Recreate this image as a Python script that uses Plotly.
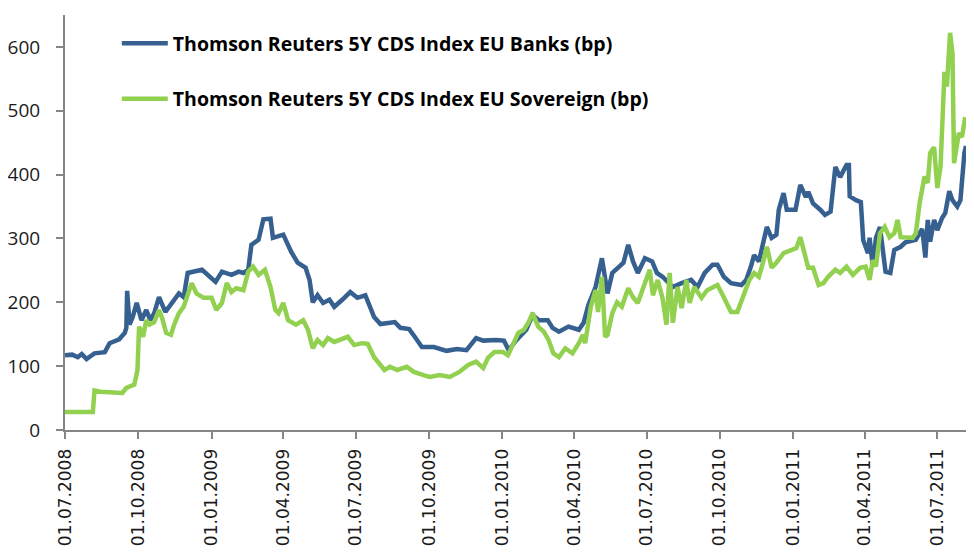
import plotly.graph_objects as go

# Thomson Reuters 5Y CDS Index EU Banks (bp)
banks_dates = [
    "2008-07-01", "2008-07-10", "2008-07-17", "2008-07-22", "2008-07-28", "2008-08-07", "2008-08-20",
    "2008-08-26", "2008-09-07", "2008-09-14", "2008-09-16", "2008-09-17", "2008-09-20", "2008-09-24",
    "2008-09-29", "2008-10-05", "2008-10-11", "2008-10-16", "2008-10-21", "2008-10-27", "2008-11-04",
    "2008-11-12", "2008-11-21", "2008-11-27", "2008-12-02", "2008-12-20", "2009-01-06", "2009-01-14",
    "2009-01-26", "2009-02-04", "2009-02-10", "2009-02-16", "2009-02-20", "2009-03-01", "2009-03-07",
    "2009-03-16", "2009-03-19", "2009-04-01", "2009-04-11", "2009-04-19", "2009-04-29", "2009-05-04",
    "2009-05-08", "2009-05-14", "2009-05-21", "2009-05-29", "2009-06-04", "2009-06-14", "2009-06-24",
    "2009-07-03", "2009-07-13", "2009-07-24", "2009-08-01", "2009-08-13", "2009-08-19", "2009-08-26",
    "2009-09-06", "2009-09-13", "2009-09-22", "2009-10-07", "2009-10-23", "2009-11-05", "2009-11-17",
    "2009-11-29", "2009-12-08", "2009-12-24", "2010-01-03", "2010-01-09", "2010-01-18", "2010-01-31",
    "2010-02-08", "2010-02-16", "2010-02-27", "2010-03-05", "2010-03-13", "2010-03-25", "2010-04-07",
    "2010-04-13", "2010-04-19", "2010-04-28", "2010-05-06", "2010-05-13", "2010-05-19", "2010-05-26",
    "2010-06-02", "2010-06-08", "2010-06-14", "2010-06-20", "2010-06-29", "2010-07-08", "2010-07-14",
    "2010-07-21", "2010-08-03", "2010-08-14", "2010-08-26", "2010-09-03", "2010-09-12", "2010-09-22",
    "2010-09-28", "2010-10-06", "2010-10-15", "2010-10-28", "2010-11-03", "2010-11-09", "2010-11-13",
    "2010-11-19", "2010-11-25", "2010-11-29", "2010-12-05", "2010-12-11", "2010-12-14", "2010-12-20",
    "2010-12-24", "2011-01-04", "2011-01-10", "2011-01-17", "2011-01-20", "2011-01-26", "2011-02-04",
    "2011-02-10", "2011-02-17", "2011-02-23", "2011-03-01", "2011-03-09", "2011-03-12", "2011-03-13",
    "2011-03-21", "2011-03-27", "2011-03-30", "2011-04-05", "2011-04-07", "2011-04-11", "2011-04-15",
    "2011-04-20", "2011-04-27", "2011-05-03", "2011-05-08", "2011-05-16", "2011-05-22", "2011-06-04",
    "2011-06-12", "2011-06-16", "2011-06-19", "2011-06-22", "2011-06-27", "2011-07-01", "2011-07-07",
    "2011-07-11", "2011-07-16", "2011-07-20", "2011-07-26", "2011-07-30", "2011-08-04", "2011-08-06",
]
banks_bp = [
    117, 118, 114, 119, 111, 120, 122,
    136, 142, 152, 160, 218, 165, 177,
    199, 172, 188, 172, 183, 208, 185,
    199, 214, 208, 246, 251, 232, 248,
    243, 248, 246, 251, 290, 298, 330,
    331, 301, 306, 279, 262, 254, 235,
    200, 211, 199, 204, 193, 204, 216,
    207, 211, 177, 166, 168, 169, 160,
    158, 146, 130, 130, 124, 127, 125,
    144, 140, 141, 140, 125, 140, 157,
    180, 172, 172, 160, 154, 162, 157,
    168, 196, 224, 269, 214, 246, 254,
    262, 290, 264, 246, 269, 264, 246,
    240, 224, 230, 235, 224, 246, 259,
    259, 240, 230, 227, 235, 256, 274,
    264, 298, 318, 301, 306, 345, 371,
    345, 345, 384, 365, 373, 355, 345,
    337, 342, 412, 396, 415, 415, 366,
    360, 357, 297, 277, 301, 256, 301,
    318, 248, 246, 282, 287, 294, 298,
    315, 270, 329, 295, 329, 313, 332,
    340, 374, 360, 350, 360, 434, 445,
]

# Thomson Reuters 5Y CDS Index EU Sovereign (bp)
sov_dates = [
    "2008-07-01", "2008-08-05", "2008-08-07", "2008-08-14", "2008-09-11", "2008-09-16", "2008-09-26",
    "2008-09-30", "2008-10-02", "2008-10-07", "2008-10-11", "2008-10-15", "2008-10-21", "2008-10-27",
    "2008-10-31", "2008-11-05", "2008-11-11", "2008-11-15", "2008-11-21", "2008-11-27", "2008-12-01",
    "2008-12-07", "2008-12-13", "2008-12-22", "2009-01-01", "2009-01-07", "2009-01-14", "2009-01-20",
    "2009-01-26", "2009-02-01", "2009-02-10", "2009-02-14", "2009-02-16", "2009-02-22", "2009-03-01",
    "2009-03-09", "2009-03-16", "2009-03-22", "2009-03-26", "2009-04-01", "2009-04-07", "2009-04-17",
    "2009-04-26", "2009-05-02", "2009-05-08", "2009-05-14", "2009-05-21", "2009-05-27", "2009-06-04",
    "2009-06-21", "2009-06-29", "2009-07-09", "2009-07-16", "2009-07-24", "2009-08-06", "2009-08-13",
    "2009-08-22", "2009-09-03", "2009-09-12", "2009-09-24", "2009-10-02", "2009-10-14", "2009-10-27",
    "2009-11-08", "2009-11-19", "2009-11-29", "2009-12-08", "2009-12-14", "2009-12-22", "2010-01-02",
    "2010-01-08", "2010-01-14", "2010-01-21", "2010-01-28", "2010-02-03", "2010-02-08", "2010-02-15",
    "2010-02-22", "2010-02-28", "2010-03-06", "2010-03-13", "2010-03-21", "2010-03-30", "2010-04-07",
    "2010-04-12", "2010-04-15", "2010-04-22", "2010-04-28", "2010-05-01", "2010-05-06", "2010-05-10",
    "2010-05-13", "2010-05-19", "2010-05-25", "2010-05-31", "2010-06-08", "2010-06-14", "2010-06-20",
    "2010-06-29", "2010-07-05", "2010-07-09", "2010-07-15", "2010-07-21", "2010-07-26", "2010-07-30",
    "2010-08-03", "2010-08-09", "2010-08-14", "2010-08-20", "2010-08-24", "2010-08-30", "2010-09-08",
    "2010-09-15", "2010-09-28", "2010-10-06", "2010-10-15", "2010-10-23", "2010-10-29", "2010-11-07",
    "2010-11-13", "2010-11-19", "2010-11-25", "2010-11-29", "2010-12-05", "2010-12-11", "2010-12-20",
    "2011-01-05", "2011-01-10", "2011-01-17", "2011-01-20", "2011-01-26", "2011-02-02", "2011-02-08",
    "2011-02-14", "2011-02-23", "2011-03-01", "2011-03-09", "2011-03-17", "2011-03-26", "2011-04-02",
    "2011-04-07", "2011-04-11", "2011-04-15", "2011-04-20", "2011-04-26", "2011-05-02", "2011-05-08",
    "2011-05-12", "2011-05-16", "2011-05-31", "2011-06-04", "2011-06-09", "2011-06-15", "2011-06-19",
    "2011-06-22", "2011-06-27", "2011-07-01", "2011-07-05", "2011-07-10", "2011-07-13", "2011-07-17",
    "2011-07-20", "2011-07-22", "2011-07-28", "2011-08-01", "2011-08-05",
]
sov_bp = [
    28, 28, 62, 60, 58, 66, 71,
    94, 162, 146, 172, 165, 169, 188,
    175, 152, 149, 165, 183, 193, 208,
    230, 214, 207, 207, 188, 199, 230,
    216, 222, 219, 240, 248, 256, 243,
    251, 224, 188, 183, 199, 172, 165,
    172, 157, 128, 141, 133, 144, 138,
    146, 133, 136, 135, 114, 94, 99,
    94, 99, 91, 86, 83, 86, 83,
    91, 102, 107, 97, 113, 122, 122,
    117, 133, 152, 157, 169, 183, 162,
    154, 141, 120, 114, 128, 120, 136,
    149, 136, 193, 219, 185, 240, 146,
    149, 183, 200, 193, 222, 208, 199,
    230, 251, 211, 235, 207, 165, 246,
    168, 224, 191, 235, 199, 224, 207,
    219, 227, 208, 185, 185, 204, 235,
    246, 240, 266, 287, 254, 262, 277,
    285, 302, 266, 254, 254, 227, 230,
    240, 251, 246, 256, 243, 254, 256,
    235, 266, 256, 308, 318, 302, 308,
    329, 302, 301, 308, 357, 397, 387,
    434, 443, 379, 412, 561, 538, 622,
    590, 418, 465, 459, 490,
]

quarter_ticks = [
    "2008-07-01", "2008-10-01", "2009-01-01", "2009-04-01", "2009-07-01", "2009-10-01", "2010-01-01",
    "2010-04-01", "2010-07-01", "2010-10-01", "2011-01-01", "2011-04-01", "2011-07-01",
]

AXIS_GREY = "#868686"

fig = go.Figure()
fig.add_trace(
    go.Scatter(
        x=banks_dates,
        y=banks_bp,
        mode="lines",
        name="Thomson Reuters 5Y CDS Index EU Banks (bp)",
        legendgroup="banks",
        line=dict(color="#36608F", width=4.5),
    )
)
fig.add_trace(
    go.Scatter(
        x=sov_dates,
        y=sov_bp,
        mode="lines",
        name="Thomson Reuters 5Y CDS Index EU Sovereign (bp)",
        legendgroup="sov",
        line=dict(color="#92D050", width=4.5),
    )
)

# the page body has an 8px margin all round, so the figure is kept small enough
# to sit fully inside the visible part of the window
fig.update_layout(
    width=958,
    height=540,
    margin=dict(l=57, r=0, t=7, b=118),
    plot_bgcolor="white",
    paper_bgcolor="white",
    showlegend=True,
    legend=dict(
        x=0.0575,
        y=0.978,
        xanchor="left",
        yanchor="top",
        bgcolor="rgba(0,0,0,0)",
        tracegroupgap=27,
        itemwidth=46,
        font=dict(family="Open Sans", size=19.5, color="#000000", weight=700),
    ),
    xaxis=dict(
        type="date",
        range=["2008-07-01", "2011-08-06"],
        tickvals=quarter_ticks,
        tickformat="%d.%m.%Y",
        tickangle=-90,
        showgrid=False,
        zeroline=False,
        showline=True,
        linecolor=AXIS_GREY,
        linewidth=2,
        ticks="outside",
        ticklen=7,
        tickwidth=2,
        tickcolor=AXIS_GREY,
        ticklabelstandoff=3,
        automargin=False,
        tickfont=dict(family="DejaVu Sans", size=17, color="#1a1a1a"),
    ),
    yaxis=dict(
        range=[0, 650],
        dtick=100,
        showgrid=False,
        zeroline=False,
        showline=True,
        linecolor=AXIS_GREY,
        linewidth=2,
        ticks="outside",
        ticklen=7,
        tickwidth=2,
        tickcolor=AXIS_GREY,
        ticklabelstandoff=12,
        automargin=False,
        tickfont=dict(family="Open Sans", size=19, color="#1a1a1a"),
    ),
)

fig.write_html("out.html")
